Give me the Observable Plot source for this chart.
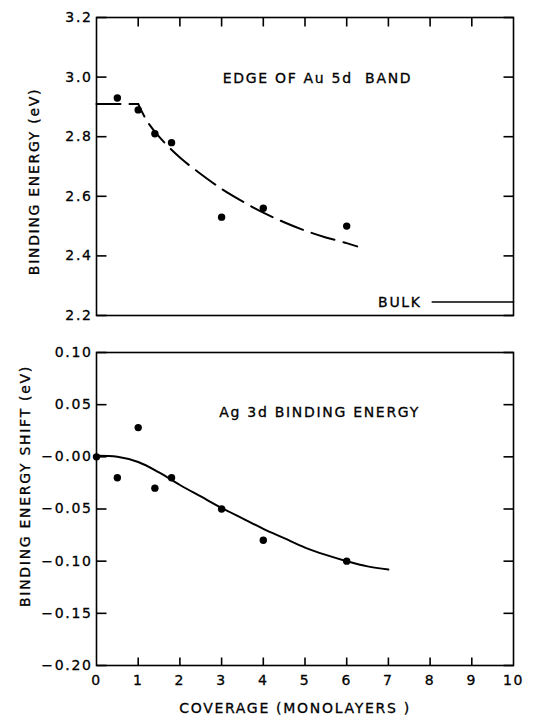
<!DOCTYPE html>
<html><head><meta charset="utf-8">
<script src="https://cdn.jsdelivr.net/npm/d3@7"></script>
<script src="https://cdn.jsdelivr.net/npm/@observablehq/plot@0.6"></script>
<style>
body{margin:0;background:#fff;}
#chart svg{display:block;}
#chart svg text{letter-spacing:1.7px; stroke:#000; stroke-width:0.3px;}
</style>
</head><body><div id="chart"></div>
<script>
// ---- data ----
const auCoverage = [0.5, 1, 1.4, 1.8, 3, 4, 6];
const auEnergy = [2.93, 2.89, 2.81, 2.78, 2.53, 2.56, 2.50];
// dashed guide: flat part then falling part
const auFlatCoverage = [0, 1];
const auFlatEnergy = [2.91, 2.91];
const auFitCoverage = [1, 1.2, 1.5, 2, 2.5, 3, 3.5, 4, 4.5, 5, 5.5, 6, 6.25];
const auFitEnergy = [2.91, 2.855, 2.80, 2.73, 2.675, 2.625, 2.583, 2.545, 2.513, 2.485, 2.462, 2.443, 2.432];
const bulkEnergy = 2.245;
const bulkCoverage = [8.05, 10];
const agCoverage = [0, 0.5, 1, 1.4, 1.8, 3, 4, 6];
const agShift = [0, -0.02, 0.028, -0.03, -0.02, -0.05, -0.08, -0.10];
const agFitCoverage = [0, 0.5, 1, 1.5, 2, 2.5, 3, 3.5, 4, 4.5, 5, 5.5, 6, 6.5, 7];
const agFitShift = [0.001, 0.0, -0.005, -0.015, -0.027, -0.038, -0.049, -0.059, -0.069, -0.078, -0.087, -0.094, -0.100, -0.105, -0.108];
const xTicks = [0, 1, 2, 3, 4, 5, 6, 7, 8, 9, 10];
const yTicksTop = [2.2, 2.4, 2.6, 2.8, 3.0, 3.2];
const yTicksBottom = [0.10, 0.05, 0, -0.05, -0.10, -0.15, -0.20];
const topTitle = "EDGE OF Au 5d\u00a0 BAND";
const bottomTitle = "Ag 3d BINDING ENERGY";
const topYLabel = "BINDING ENERGY (eV)";
const bottomYLabel = "BINDING ENERGY SHIFT (eV)";
const xLabel = "COVERAGE (MONOLAYERS )";
const bulkLabel = "BULK";

const zip = (xs, ys) => xs.map((x, i) => ({x, y: ys[i]}));
const font = {fontFamily: "DejaVu Sans", fontSize: "14px", color: "#000", background: "#fff"};

const W = 534, ML = 96, MR = 21;
const FW = W - ML - MR;
const xDom = [0, 10];
const pxX = (px) => (xDom[1] - xDom[0]) * px / FW;  // pixel length -> x units

// inward tick marks as short links; lengths converted from pixels via the domain
function frameTicks(yTicks, yDom, fh, xTickList, xSide, xLen) {
  const pxY = (px) => (yDom[1] - yDom[0]) * px / fh;
  const opts = {strokeWidth: 1.6, stroke: "#000"};
  const marks = [
    Plot.link(yTicks, {x1: () => xDom[0], x2: () => xDom[0] + pxX(10), y1: d => d, y2: d => d, ...opts}),
    Plot.link(yTicks, {x1: () => xDom[1] - pxX(10), x2: () => xDom[1], y1: d => d, y2: d => d, ...opts})
  ];
  const y0 = xSide === "top" ? yDom[1] : yDom[0];
  const y1 = xSide === "top" ? yDom[1] - pxY(xLen) : yDom[0] + pxY(xLen);
  marks.push(Plot.link(xTickList, {x1: d => d, x2: d => d, y1: () => y0, y2: () => y1, ...opts}));
  return marks;
}

const H1 = 330, MT1 = 17, MB1 = 15, FH1 = H1 - MT1 - MB1;
const yDomTop = [2.2, 3.2];
const topPlot = Plot.plot({
  width: W, height: H1,
  marginTop: MT1, marginBottom: MB1, marginLeft: ML, marginRight: MR,
  style: font,
  x: {domain: xDom, axis: null},
  y: {domain: yDomTop},
  marks: [
    Plot.frame({strokeWidth: 1.6}),
    Plot.axisY(yTicksTop, {anchor: "left", tickSize: 0, tickPadding: 3.8, tickFormat: d3.format(".1f"), label: null}),
    ...frameTicks(yTicksTop, yDomTop, FH1, xTicks.slice(1, -1), "top", 9),
    Plot.line(zip(auFlatCoverage, auFlatEnergy), {x: "x", y: "y", strokeWidth: 2, strokeDasharray: "24,9"}),
    Plot.line(zip(auFitCoverage, auFitEnergy), {x: "x", y: "y", strokeWidth: 2, strokeDasharray: "24,9", strokeDashoffset: 10, curve: "catmull-rom"}),
    Plot.dot(zip(auCoverage, auEnergy), {x: "x", y: "y", r: 3.7, fill: "#000"}),
    Plot.line(bulkCoverage.map(x => ({x, y: bulkEnergy})), {x: "x", y: "y", strokeWidth: 1.5}),
    Plot.text([bulkLabel], {x: 7.8, y: bulkEnergy, text: d => d, textAnchor: "end"}),
    Plot.text([topTitle], {x: 5.3, y: 2.995, text: d => d}),
    Plot.text([topYLabel], {frameAnchor: "left", dx: -62, dy: 15, rotate: -90, textAnchor: "middle", lineAnchor: "middle", text: d => d})
  ]
});

const H2 = 385, MT2 = 22, MB2 = 50, FH2 = H2 - MT2 - MB2;
const yDomBottom = [-0.20, 0.10];
const bottomPlot = Plot.plot({
  width: W, height: H2,
  marginTop: MT2, marginBottom: MB2, marginLeft: ML, marginRight: MR,
  style: font,
  x: {domain: xDom},
  y: {domain: yDomBottom},
  marks: [
    Plot.frame({strokeWidth: 1.6}),
    Plot.axisY(yTicksBottom, {anchor: "left", tickSize: 0, tickPadding: 3.8,
      tickFormat: d => (d > 0 ? "" : "\u2212") + Math.abs(d).toFixed(2), label: null}),
    Plot.axisX(xTicks, {anchor: "bottom", tickSize: 0, tickPadding: 10, label: null}),
    ...frameTicks(yTicksBottom, yDomBottom, FH2, xTicks.slice(1, -1), "bottom", 8),
    Plot.line(zip(agFitCoverage, agFitShift), {x: "x", y: "y", strokeWidth: 2, curve: "catmull-rom"}),
    Plot.dot(zip(agCoverage, agShift), {x: "x", y: "y", r: 3.7, fill: "#000"}),
    Plot.text([bottomTitle], {x: 5.35, y: 0.042, text: d => d}),
    Plot.text([bottomYLabel], {frameAnchor: "left", dx: -71, dy: -23, rotate: -90, textAnchor: "middle", lineAnchor: "middle", text: d => d}),
    Plot.text([xLabel], {frameAnchor: "bottom", dy: 43, dx: -10, textAnchor: "middle", lineAnchor: "middle", text: d => d})
  ]
});

document.getElementById("chart").append(topPlot, bottomPlot);
</script>
</body></html>
